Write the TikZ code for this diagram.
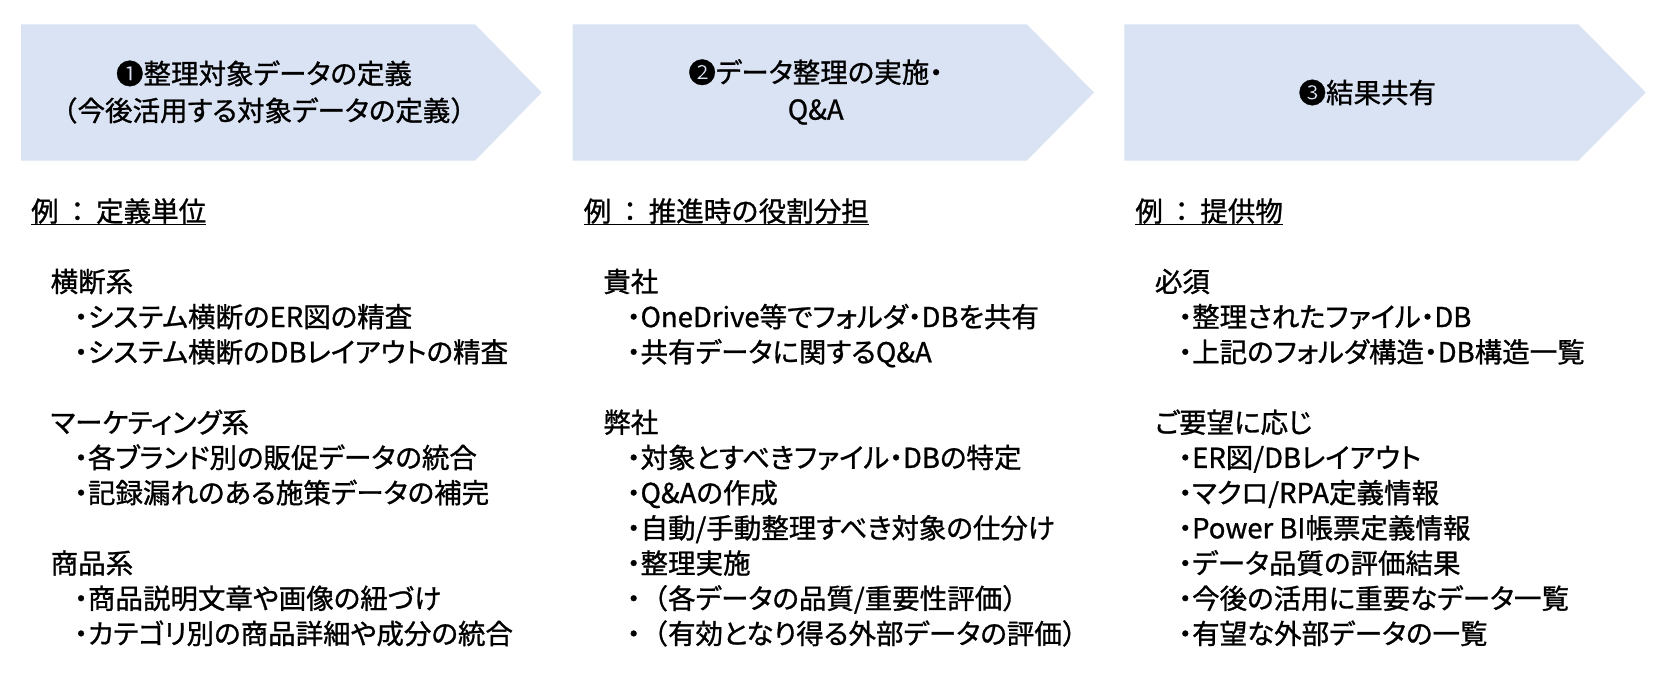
\documentclass[tikz,border=0pt]{standalone}
\usepackage{fontspec}
\setmainfont{Noto Sans CJK JP}[RawFeature={+palt},FakeBold=1]
\newfontfamily\jpf{Noto Sans CJK JP}[FakeBold=1]
\definecolor{chevfill}{HTML}{DAE3F3}
\begin{document}
\begin{tikzpicture}[x=1pt,y=-1pt,
  chev/.style={fill=chevfill,draw=none},
  txt/.style={anchor=base west,inner sep=0pt,font=\fontsize{27.5}{33}\selectfont},
  head/.style={txt,font=\jpf\fontsize{27.5}{33}\selectfont},
  ctxt/.style={align=center,inner sep=0pt,font=\fontsize{27.5}{37}\selectfont},
  uline/.style={line width=1.5pt,black}]
\useasboundingbox (0,0) rectangle (1663,676);
\fill[white] (0,0) rectangle (1663,676);
% chevrons
\path[chev] (21,24.3) -- (475,24.3) -- (541.7,92.5) -- (475,160.7) -- (21,160.7) -- cycle;
\path[chev] (572.7,24.3) -- (1026.7,24.3) -- (1094,92.5) -- (1026.7,160.7) -- (572.7,160.7) -- cycle;
\path[chev] (1124.3,24.3) -- (1578.3,24.3) -- (1645.7,92.5) -- (1578.3,160.7) -- (1124.3,160.7) -- cycle;
\node[ctxt] (c1) at (264,92) {❶整理対象データの定義\\{\jpf （}今後活用する対象データの定義{\jpf ）}};
\node[ctxt] (c2) at (815.7,92) {❷データ整理の実施・\\Q\&A};
\node[ctxt] (c3) at (1367.3,92.5) {❸結果共有};
% column 1
\node[head] (h1) at (31,221.5) {例\hspace{5pt}：\hspace{5pt}定義単位};
\draw[uline] ([yshift=-3pt]h1.base west) -- ([yshift=-3pt]h1.base east);
\node[txt] (g11) at (50.5,291.9) {横断系};
\node[txt] (a11) at (74,327.1) {・システム横断のER図の精査};
\node[txt] (a12) at (74,362.3) {・システム横断のDBレイアウトの精査};
\node[txt] (g12) at (50.5,432.7) {マーケティング系};
\node[txt] (a13) at (74,467.9) {・各ブランド別の販促データの統合};
\node[txt] (a14) at (74,503.1) {・記録漏れのある施策データの補完};
\node[txt] (g13) at (50.5,573.5) {商品系};
\node[txt] (a15) at (74,608.7) {・商品説明文章や画像の紐づけ};
\node[txt] (a16) at (74,643.9) {・カテゴリ別の商品詳細や成分の統合};
% column 2
\node[head] (h2) at (583.6,221.5) {例\hspace{5pt}：\hspace{5pt}推進時の役割分担};
\draw[uline] ([yshift=-3pt]h2.base west) -- ([yshift=-3pt]h2.base east);
\node[txt] (g21) at (603.1,291.9) {貴社};
\node[txt] (b11) at (626.6,327.1) {・OneDrive等でフォルダ・DBを共有};
\node[txt] (b12) at (626.6,362.3) {・共有データに関するQ\&A};
\node[txt] (g22) at (603.1,432.7) {弊社};
\node[txt] (b21) at (626.6,467.9) {・対象とすべきファイル・DBの特定};
\node[txt] (b22) at (626.6,503.1) {・Q\&Aの作成};
\node[txt] (b23) at (626.6,538.3) {・自動/手動整理すべき対象の仕分け};
\node[txt] (b24) at (626.6,573.5) {・整理実施};
\node[txt] (b25) at (626.6,608.7) {・{\jpf （}各データの品質/重要性評価{\jpf ）}};
\node[txt] (b26) at (626.6,643.9) {・{\jpf （}有効となり得る外部データの評価{\jpf ）}};
% column 3
\node[head] (h3) at (1135.2,221.5) {例\hspace{5pt}：\hspace{5pt}提供物};
\draw[uline] ([yshift=-3pt]h3.base west) -- ([yshift=-3pt]h3.base east);
\node[txt] (g31) at (1154.7,291.9) {必須};
\node[txt] (d11) at (1178.2,327.1) {・整理されたファイル・DB};
\node[txt] (d12) at (1178.2,362.3) {・上記のフォルダ構造・DB構造一覧};
\node[txt] (g32) at (1154.7,432.7) {ご要望に応じ};
\node[txt] (d21) at (1178.2,467.9) {・ER図/DBレイアウト};
\node[txt] (d22) at (1178.2,503.1) {・マクロ/RPA定義情報};
\node[txt] (d23) at (1178.2,538.3) {・Power BI帳票定義情報};
\node[txt] (d24) at (1178.2,573.5) {・データ品質の評価結果};
\node[txt] (d25) at (1178.2,608.7) {・今後の活用に重要なデータ一覧};
\node[txt] (d26) at (1178.2,643.9) {・有望な外部データの一覧};
\end{tikzpicture}
\end{document}
